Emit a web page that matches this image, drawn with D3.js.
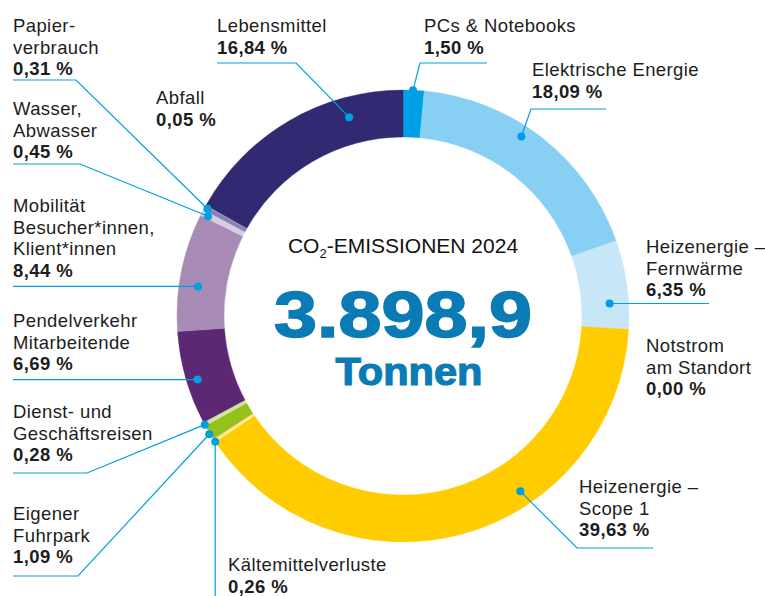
<!DOCTYPE html>
<html>
<head>
<meta charset="utf-8">
<script src="https://cdn.jsdelivr.net/npm/d3@7"></script>
<style>
  html, body { margin: 0; padding: 0; background: #fff; }
  svg { display: block; font-family: "Liberation Sans", Arial, sans-serif; }
</style>
</head>
<body>
<div id="chart"></div>
<script>
// categories, clockwise from 12 o'clock
const categories = [
    "PCs & Notebooks",
    "Elektrische Energie",
    "Heizenergie –\nFernwärme",
    "Notstrom\nam Standort",
    "Heizenergie –\nScope 1",
    "Kältemittelverluste",
    "Eigener\nFuhrpark",
    "Dienst- und\nGeschäftsreisen",
    "Pendelverkehr\nMitarbeitende",
    "Mobilität\nBesucher*innen,\nKlient*innen",
    "Wasser,\nAbwasser",
    "Papier-\nverbrauch",
    "Abfall",
    "Lebensmittel"
];
// share in percent
const shares = [1.50, 18.09, 6.35, 0.00, 39.63, 0.26, 1.09, 0.28, 6.69, 8.44, 0.45, 0.31, 0.05, 16.84];
const colors = ["#009fe3", "#87cff3", "#c7e6f8", "#c7e6f8", "#ffcc00", "#fde793", "#95c11f", "#d3e3a1",
    "#5c2873", "#a88bb5", "#d7cde3", "#8a7fb7", "#b5aacb", "#312a72"];

const totalLabel = "3.898,9";
const unitLabel = "Tonnen";
const title = ["CO", "2", "-EMISSIONEN 2024"];

// where the labels sit and how their leader lines run (null = take the dot's coordinate)
const labelLayout = [
    { x: 424, y: 32, line: [[487, 63], [420, 63]], t: 0.47, r: 226 },
    { x: 532, y: 76, line: [[606, 109], [531, 109]], t: 0.43, r: 215 },
    { x: 646, y: 253, line: [[709, null]], t: 0.70, r: 207 },
    { x: 646, y: 352, line: null },
    { x: 579, y: 493, line: [[653, 548], [577, 548]], t: 0.37, r: 211 },
    { x: 228, y: 571, line: [[null, 600]], t: 0.1, r: 226 },
    { x: 13, y: 520, line: [[13, 576], [78, 576]], t: 0.4, r: 227 },
    { x: 13, y: 418, line: [[13, 473], [87, 473]], t: 0.3, r: 226 },
    { x: 13, y: 327, line: [[13, null]], t: 0.45, r: 215 },
    { x: 13, y: 212, line: [[13, null]], t: 0.40, r: 207 },
    { x: 13, y: 115, line: [[13, 164], [80, 164]], t: 0.4, r: 219 },
    { x: 13, y: 32, line: [[13, 80], [76, 80]], t: 0.6, r: 223 },
    { x: 156, y: 104, line: null },
    { x: 217, y: 32, line: [[217, 63], [296, 63]], t: 0.75, r: 206 }
];

const width = 765, height = 596;
const cx = 403, cy = 316;
const outerR = 226, innerR = 179;
const lineH = 21.5;
const textColor = "#1d1d1b";
const accent = "#009fe3";
const blue = "#0b7bb5";

const svg = d3.select("#chart").append("svg")
    .attr("width", width)
    .attr("height", height);

const data = categories.map((c, i) => ({ name: c, value: shares[i], color: colors[i], layout: labelLayout[i] }));

const pie = d3.pie().sort(null).value(d => d.value).startAngle(0).endAngle(2 * Math.PI);
const arc = d3.arc().innerRadius(innerR).outerRadius(outerR);
const arcs = pie(data);

const g = svg.append("g").attr("transform", `translate(${cx},${cy})`);

g.selectAll("path.slice")
    .data(arcs)
    .enter().append("path")
    .attr("class", "slice")
    .attr("d", arc)
    .attr("fill", d => d.data.color)
    .attr("stroke", d => d.data.color)
    .attr("stroke-width", 0.4);

const fmt = v => v.toFixed(2).replace(".", ",") + " %";

function dotPos(a) {
    const L = a.data.layout;
    const ang = a.startAngle + L.t * (a.endAngle - a.startAngle);
    return [cx + L.r * Math.sin(ang), cy - L.r * Math.cos(ang)];
}

// leader lines
const lineGen = d3.line();
const withLine = arcs.filter(a => a.data.layout.line);

svg.selectAll("path.leader")
    .data(withLine)
    .enter().append("path")
    .attr("class", "leader")
    .attr("fill", "none")
    .attr("stroke", accent)
    .attr("stroke-width", 1.2)
    .attr("d", a => {
        const dot = dotPos(a);
        const pts = a.data.layout.line.map(p => [p[0] == null ? dot[0] : p[0], p[1] == null ? dot[1] : p[1]]);
        pts.push(dot);
        return lineGen(pts);
    });

svg.selectAll("circle.dot")
    .data(withLine)
    .enter().append("circle")
    .attr("class", "dot")
    .attr("r", 4)
    .attr("fill", accent)
    .attr("cx", a => dotPos(a)[0])
    .attr("cy", a => dotPos(a)[1]);

// labels
const label = svg.selectAll("text.label")
    .data(data)
    .enter().append("text")
    .attr("class", "label")
    .attr("font-size", 18.5)
    .attr("letter-spacing", 0.4)
    .attr("fill", textColor);

label.each(function(d) {
    const t = d3.select(this);
    const lines = d.name.split("\n");
    lines.forEach((ln, i) => {
        t.append("tspan")
            .attr("x", d.layout.x)
            .attr("y", d.layout.y + i * lineH)
            .text(ln);
    });
    t.append("tspan")
        .attr("x", d.layout.x)
        .attr("y", d.layout.y + lines.length * lineH)
        .attr("font-weight", "bold")
        .text(fmt(d.value));
});

// centre text
const head = svg.append("text")
    .attr("x", cx)
    .attr("y", 253)
    .attr("text-anchor", "middle")
    .attr("font-size", 21)
    .attr("fill", "#111");
head.append("tspan").text(title[0]);
head.append("tspan").attr("font-size", 13).attr("dy", 5).text(title[1]);
head.append("tspan").attr("dy", -5).text(title[2]);

svg.append("text")
    .attr("x", cx)
    .attr("y", 337)
    .attr("text-anchor", "middle")
    .attr("font-size", 64)
    .attr("font-weight", 900)
    .attr("fill", blue)
    .attr("stroke", blue)
    .attr("stroke-width", 1.6)
    .attr("textLength", 258)
    .attr("lengthAdjust", "spacingAndGlyphs")
    .text(totalLabel);

svg.append("text")
    .attr("x", cx + 6)
    .attr("y", 385)
    .attr("text-anchor", "middle")
    .attr("font-size", 39)
    .attr("font-weight", 900)
    .attr("fill", blue)
    .attr("stroke", blue)
    .attr("stroke-width", 1.2)
    .attr("textLength", 147)
    .attr("lengthAdjust", "spacingAndGlyphs")
    .text(unitLabel);
</script>
</body>
</html>
